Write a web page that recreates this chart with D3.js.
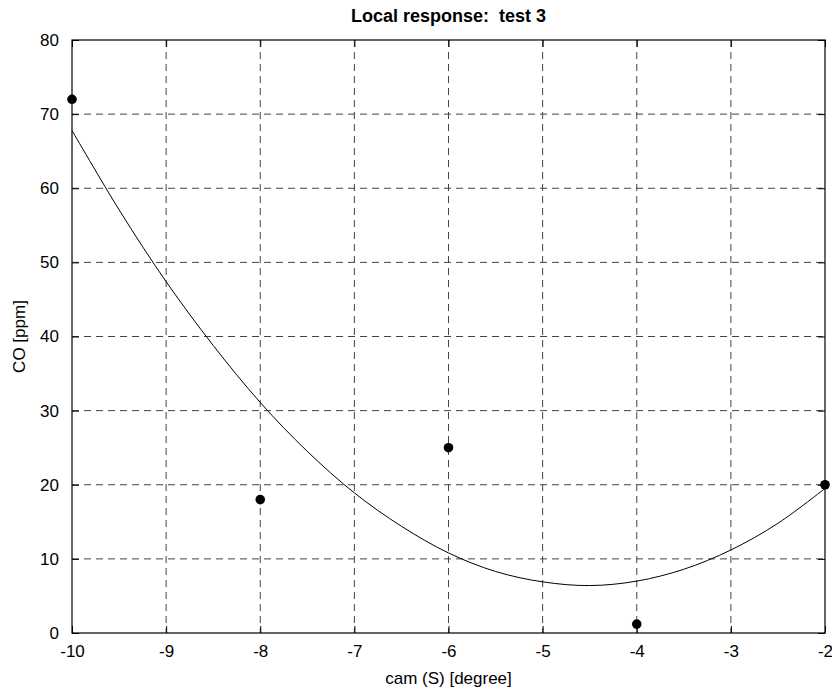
<!DOCTYPE html>
<html>
<head>
<meta charset="utf-8">
<script src="https://cdn.jsdelivr.net/npm/d3@7"></script>
<style>
  html, body { margin: 0; padding: 0; background: #fff; }
  svg { display: block; }
  text { font-family: "Liberation Sans", Arial, Helvetica, sans-serif; fill: #000; white-space: pre; }
</style>
</head>
<body>
<svg id="chart" width="832" height="691"></svg>
<script>
// ---- data ----
const title = "Local response:  test 3";
const xLabel = "cam (S) [degree]";
const yLabel = "CO [ppm]";
const xTicks = [-10, -9, -8, -7, -6, -5, -4, -3, -2];
const yTicks = [0, 10, 20, 30, 40, 50, 60, 70, 80];
// measured points
const pointX = [-10, -8, -6, -4, -2];
const pointY = [72, 18, 25, 1.2, 20];
// fitted response curve
const curveX = [-10, -9.5, -9, -8.5, -8, -7.5, -7, -6.5, -6, -5.5, -5, -4.5, -4, -3.5, -3, -2.5, -2];
const curveY = [67.8, 57.1, 47.4, 38.8, 31.1, 24.5, 18.9, 14.4, 10.8, 8.3, 6.9, 6.4, 7.0, 8.6, 11.2, 14.8, 19.5];

// ---- layout ----
const svg = d3.select("#chart");
const pL = 72, pR = 825, pT = 40, pB = 633;
const x = d3.scaleLinear().domain([-10, -2]).range([pL, pR]);
const y = d3.scaleLinear().domain([0, 80]).range([pB, pT]);
const fs = 17;
const fmt = d => String(d);

// grid
const grid = svg.append("g").attr("stroke", "#444").attr("stroke-width", 1).attr("stroke-dasharray", "7,5").attr("fill", "none");
xTicks.slice(1, -1).forEach(t => {
  grid.append("line").attr("x1", x(t)).attr("x2", x(t)).attr("y1", pT).attr("y2", pB);
});
yTicks.slice(1, -1).forEach(t => {
  grid.append("line").attr("x1", pL).attr("x2", pR).attr("y1", y(t)).attr("y2", y(t));
});

// axes with inward ticks
const tl = 7;
const axB = svg.append("g").attr("transform", `translate(0,${pB})`)
  .call(d3.axisBottom(x).tickValues(xTicks).tickSizeInner(-tl).tickSizeOuter(0).tickPadding(tl + 5).tickFormat(fmt));
const axT = svg.append("g").attr("transform", `translate(0,${pT})`)
  .call(d3.axisTop(x).tickValues(xTicks).tickSizeInner(-tl).tickSizeOuter(0).tickFormat(""));
const axL = svg.append("g").attr("transform", `translate(${pL},0)`)
  .call(d3.axisLeft(y).tickValues(yTicks).tickSizeInner(-tl).tickSizeOuter(0).tickPadding(tl + 6).tickFormat(fmt));
const axR = svg.append("g").attr("transform", `translate(${pR},0)`)
  .call(d3.axisRight(y).tickValues(yTicks).tickSizeInner(-tl).tickSizeOuter(0).tickFormat(""));
[axB, axT, axL, axR].forEach(a => {
  a.select(".domain").remove();
  a.selectAll("line").attr("stroke", "#000");
  a.selectAll("text").attr("font-size", fs).attr("font-family", "Liberation Sans, Arial, sans-serif").attr("fill", "#000");
});

// box
svg.append("rect").attr("x", pL).attr("y", pT).attr("width", pR - pL).attr("height", pB - pT)
  .attr("fill", "none").attr("stroke", "#000").attr("stroke-width", 1.2);

// curve
const curveData = curveX.map((v, i) => [v, curveY[i]]);
svg.append("path").datum(curveData)
  .attr("fill", "none").attr("stroke", "#000").attr("stroke-width", 1)
  .attr("d", d3.line().x(d => x(d[0])).y(d => y(d[1])).curve(d3.curveCatmullRom));

// points
svg.append("g").selectAll("circle").data(pointX.map((v, i) => [v, pointY[i]])).join("circle")
  .attr("cx", d => x(d[0])).attr("cy", d => y(d[1])).attr("r", 4.8).attr("fill", "#000");

// labels
svg.append("text").attr("x", (pL + pR) / 2).attr("y", 22).attr("text-anchor", "middle")
  .attr("font-size", 18).attr("font-weight", "bold").attr("xml:space", "preserve").text(title);
svg.append("text").attr("x", (pL + pR) / 2).attr("y", 684).attr("text-anchor", "middle")
  .attr("font-size", fs).text(xLabel);
svg.append("text").attr("transform", `translate(25,${(pT + pB) / 2}) rotate(-90)`).attr("text-anchor", "middle")
  .attr("font-size", fs).text(yLabel);
</script>
</body>
</html>
